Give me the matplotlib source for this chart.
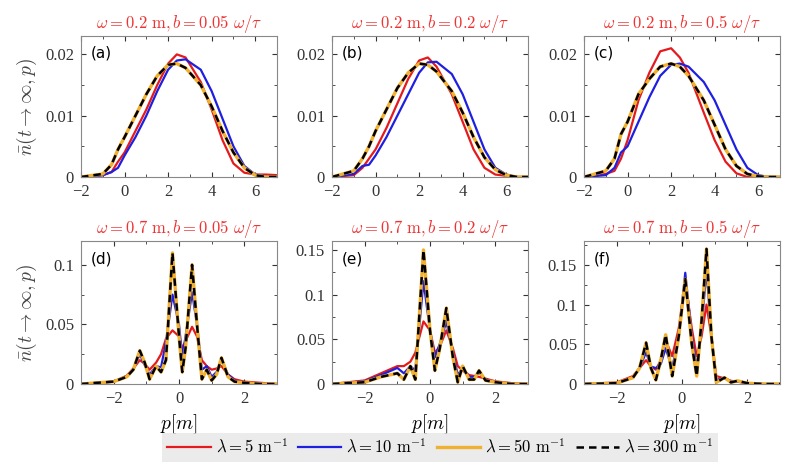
import numpy as np
import matplotlib
matplotlib.use('Agg')
import matplotlib.pyplot as plt
from matplotlib.ticker import AutoMinorLocator

plt.rcParams['font.family'] = 'Liberation Serif'
plt.rcParams['mathtext.fontset'] = 'cm'

# top row grid
x_top = [-2, -1, -0.6, -0.3, 0, 0.5, 1, 1.5, 2, 2.4, 2.8, 3.5, 4, 4.5, 5, 5.5, 6, 6.5, 7]
a_red = [0, 0.0003, 0.0008, 0.0025, 0.004, 0.0075, 0.011, 0.015, 0.0185, 0.020, 0.0195, 0.0155, 0.011, 0.006, 0.0022, 0.0007, 0.0004, 0.0004, 0.0003]
a_blue = [0, 0.0003, 0.0008, 0.0015, 0.0035, 0.0065, 0.0100, 0.0140, 0.0175, 0.019, 0.0192, 0.0175, 0.0140, 0.0095, 0.005, 0.0018, 0.0004, 0.0001, 0]
a_yel = [0, 0.0005, 0.002, 0.0045, 0.0065, 0.010, 0.0135, 0.0165, 0.0183, 0.0185, 0.0178, 0.0150, 0.0115, 0.0075, 0.004, 0.0015, 0.0003, 0, 0]
b_red = [0, 0.0003, 0.0015, 0.003, 0.0045, 0.008, 0.012, 0.016, 0.019, 0.0195, 0.018, 0.0135, 0.009, 0.0045, 0.0015, 0.0004, 0.0002, 0, 0]
b_blue = [0, 0.0005, 0.0018, 0.002, 0.0035, 0.0065, 0.010, 0.0135, 0.017, 0.0187, 0.0188, 0.0168, 0.0135, 0.0090, 0.0045, 0.0015, 0.0004, 0, 0]
b_yel = [0, 0.001, 0.003, 0.005, 0.0075, 0.011, 0.0145, 0.017, 0.0185, 0.0183, 0.0172, 0.0140, 0.0105, 0.0065, 0.0032, 0.0012, 0.0003, 0, 0]
c_red = [0, 0.0005, 0.001, 0.003, 0.006, 0.0125, 0.017, 0.0205, 0.021, 0.0195, 0.017, 0.0105, 0.006, 0.0025, 0.0006, 0, 0, 0, 0]
c_blue = [0, 0.0003, 0.0015, 0.004, 0.005, 0.009, 0.013, 0.0165, 0.0183, 0.0185, 0.018, 0.0155, 0.0125, 0.0085, 0.0045, 0.0015, 0.0003, 0, 0]
c_yel = [0, 0.001, 0.003, 0.007, 0.009, 0.0135, 0.016, 0.018, 0.0185, 0.018, 0.0165, 0.0125, 0.0085, 0.0045, 0.0018, 0.0005, 0.0001, 0, 0]

x_d = [-3, -2, -1.6, -1.4, -1.2, -1.05, -0.9, -0.7, -0.55, -0.4, -0.2, 0, 0.1, 0.2, 0.4, 0.55, 0.7, 0.85, 1.0, 1.15, 1.3, 1.5, 1.7, 2, 2.5, 3]
d_yel = [0, 0.002, 0.006, 0.012, 0.028, 0.018, 0.004, 0.015, 0.010, 0.02, 0.11, 0.04, 0.01, 0.03, 0.10, 0.05, 0.004, 0.012, 0.003, 0.008, 0.022, 0.006, 0.002, 0.001, 0, 0]
d_blue = [0, 0.002, 0.006, 0.012, 0.025, 0.016, 0.008, 0.015, 0.014, 0.035, 0.075, 0.05, 0.022, 0.04, 0.077, 0.05, 0.012, 0.015, 0.006, 0.01, 0.02, 0.008, 0.003, 0.001, 0, 0]
d_red = [0, 0.002, 0.007, 0.013, 0.02, 0.017, 0.012, 0.018, 0.025, 0.038, 0.045, 0.04, 0.03, 0.036, 0.048, 0.04, 0.02, 0.015, 0.012, 0.013, 0.015, 0.008, 0.004, 0.002, 0.001, 0]

x_e = [-3, -2, -1.5, -1.0, -0.8, -0.6, -0.45, -0.2, 0, 0.15, 0.3, 0.5, 0.7, 0.85, 1.0, 1.2, 1.35, 1.5, 1.7, 2, 2.5, 3]
e_yel = [0, 0.002, 0.008, 0.012, 0.005, 0.02, 0.005, 0.15, 0.06, 0.015, 0.04, 0.085, 0.03, 0.002, 0.02, 0.005, 0.005, 0.015, 0.004, 0.002, 0, 0]
e_blue = [0, 0.003, 0.01, 0.018, 0.012, 0.02, 0.015, 0.115, 0.06, 0.03, 0.045, 0.07, 0.035, 0.01, 0.018, 0.008, 0.008, 0.013, 0.005, 0.002, 0, 0]
e_red = [0, 0.004, 0.012, 0.02, 0.02, 0.025, 0.035, 0.07, 0.06, 0.035, 0.042, 0.06, 0.04, 0.02, 0.015, 0.01, 0.009, 0.008, 0.006, 0.003, 0.001, 0]

x_f = [-3, -2, -1.5, -1.3, -1.1, -0.95, -0.8, -0.65, -0.5, -0.3, -0.1, 0.1, 0.3, 0.45, 0.6, 0.75, 0.9, 1.05, 1.3, 1.5, 1.7, 2, 2.5, 3]
f_yel = [0, 0.001, 0.008, 0.02, 0.052, 0.02, 0.005, 0.03, 0.062, 0.01, 0.06, 0.132, 0.05, 0.01, 0.08, 0.17, 0.06, 0.002, 0.008, 0.002, 0.004, 0.001, 0, 0]
f_blue = [0, 0.001, 0.008, 0.02, 0.04, 0.022, 0.02, 0.025, 0.045, 0.02, 0.06, 0.14, 0.06, 0.02, 0.07, 0.145, 0.06, 0.005, 0.008, 0.003, 0.003, 0.001, 0, 0]
f_red = [0, 0.002, 0.01, 0.02, 0.03, 0.022, 0.018, 0.03, 0.055, 0.035, 0.07, 0.13, 0.07, 0.035, 0.06, 0.10, 0.06, 0.01, 0.007, 0.004, 0.003, 0.001, 0, 0]

panels = [
    ('(a)', x_top, a_red, a_blue, a_yel, r'$\omega = 0.2\ \mathrm{m}, b = 0.05\ \omega/\tau$'),
    ('(b)', x_top, b_red, b_blue, b_yel, r'$\omega = 0.2\ \mathrm{m}, b = 0.2\ \omega/\tau$'),
    ('(c)', x_top, c_red, c_blue, c_yel, r'$\omega = 0.2\ \mathrm{m}, b = 0.5\ \omega/\tau$'),
    ('(d)', x_d, d_red, d_blue, d_yel, r'$\omega = 0.7\ \mathrm{m}, b = 0.05\ \omega/\tau$'),
    ('(e)', x_e, e_red, e_blue, e_yel, r'$\omega = 0.7\ \mathrm{m}, b = 0.2\ \omega/\tau$'),
    ('(f)', x_f, f_red, f_blue, f_yel, r'$\omega = 0.7\ \mathrm{m}, b = 0.5\ \omega/\tau$'),
]
lefts = [81, 332, 584]
ylims = [0.023, 0.023, 0.023, 0.12, 0.16, 0.18]
yticks = [[0, 0.01, 0.02]] * 3 + [[0, 0.05, 0.1], [0, 0.05, 0.1, 0.15], [0, 0.05, 0.1, 0.15]]

W, H = 800, 470
fig = plt.figure(figsize=(8, 4.7), dpi=100)
for i, (lab, x, r, b, y, title) in enumerate(panels):
    row, col = divmod(i, 3)
    top, bot = (36, 177) if row == 0 else (241, 384)
    ax = fig.add_axes([lefts[col] / W, 1 - bot / H, 196 / W, (bot - top) / H])
    ax.plot(x, r, color='#e41a1c', lw=1.6, label=r'$\lambda = 5\ \mathrm{m}^{-1}$')
    ax.plot(x, b, color='#1f1fe0', lw=1.6, label=r'$\lambda = 10\ \mathrm{m}^{-1}$')
    ax.plot(x, y, color='#f0b030', lw=2.4, label=r'$\lambda = 50\ \mathrm{m}^{-1}$')
    ax.plot(x, y, color='black', lw=1.8, ls=(0, (3, 2)), label=r'$\lambda = 300\ \mathrm{m}^{-1}$')
    if row == 0:
        ax.set_xlim(-2, 7)
        ax.set_xticks([-2, 0, 2, 4, 6])
    else:
        ax.set_xlim(-3, 3)
        ax.set_xticks([-2, 0, 2])
        ax.set_xlabel(r'$p[m]$', fontsize=14)
    ax.set_ylim(0, ylims[i])
    ax.set_yticks(yticks[i])
    ax.set_yticklabels(['0' if t == 0 else ('%g' % t) for t in yticks[i]])
    ax.xaxis.set_minor_locator(AutoMinorLocator(2))
    ax.yaxis.set_minor_locator(AutoMinorLocator(2))
    ax.tick_params(which='both', direction='in', top=True, right=True, labelsize=12, colors='#333333')
    ax.tick_params(axis='x', pad=5)
    ax.tick_params(axis='y', pad=5)
    for s in ax.spines.values():
        s.set_color('#888888')
    ax.text(0.05, 0.93, lab, transform=ax.transAxes, family='DejaVu Sans', fontsize=11, va='top')
    ax.set_title(title, color='#ee3333', fontsize=12, pad=6)
    if col == 0:
        ax.set_ylabel(r'$\bar{n}(t\rightarrow\infty, p)$', fontsize=14, color='#444444')
    if i == 5:
        h, l = ax.get_legend_handles_labels()

leg = fig.legend(h, l, loc='lower center', bbox_to_anchor=(0.55, 0.0), ncol=4, fontsize=12,
                 frameon=True, facecolor='#e6e6e6', edgecolor='none', fancybox=False,
                 handlelength=2.6, handletextpad=0.3, columnspacing=0.6, borderpad=0.3)
fig.savefig('out.png', dpi=100)
